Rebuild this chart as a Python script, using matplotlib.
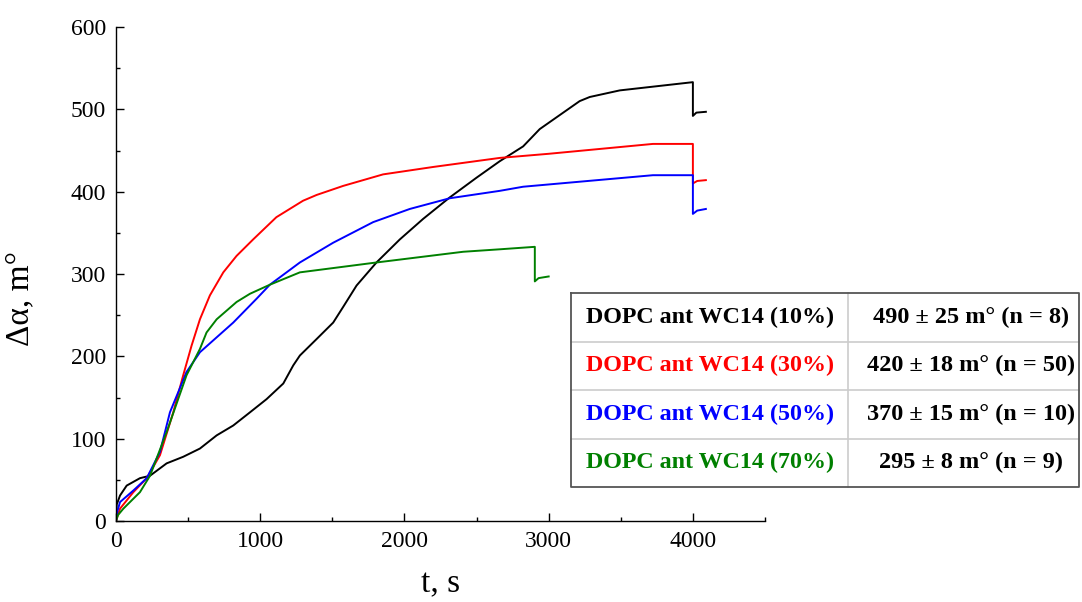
import matplotlib.pyplot as plt
from matplotlib.ticker import MultipleLocator

plt.rcParams['font.family'] = ['Liberation Serif', 'DejaVu Serif']

# kinetics curves, t in s, delta alpha in millidegrees
t_10 = [0, 5, 28, 74, 166, 236, 351, 466, 582, 698, 813, 929, 1044, 1160, 1229,
        1275, 1391, 1506, 1575, 1668, 1806, 1968, 2130, 2314, 2500, 2661, 2823,
        2938, 3215, 3285, 3493, 4000, 4000, 4024, 4090]
v_10 = [0, 20, 31, 43, 52, 55, 70, 78, 88, 104, 116, 132, 148, 167, 189,
        201, 221, 241, 260, 286, 314, 342, 367, 393, 417, 437, 455,
        476, 510, 515, 523, 533, 492, 496, 497]

t_30 = [0, 28, 120, 213, 305, 397, 466, 524, 582, 651, 744, 836, 951, 1112,
        1297, 1391, 1575, 1852, 2199, 2661, 3000, 3723, 4000, 4000, 4030, 4090]
v_30 = [0, 15, 35, 52, 80, 132, 177, 213, 245, 274, 302, 322, 342, 369,
        389, 396, 407, 421, 430, 441, 446, 458, 458, 410, 413, 414]

t_50 = [0, 8, 28, 120, 213, 305, 374, 489, 582, 813, 975, 1067, 1275, 1506,
        1783, 2037, 2314, 2661, 2823, 3723, 4000, 4000, 4030, 4090]
v_50 = [0, 11, 23, 37, 52, 84, 132, 181, 205, 241, 270, 287, 314, 338,
        363, 379, 392, 401, 406, 420, 420, 373, 377, 379]

t_70 = [0, 13, 51, 166, 236, 351, 489, 582, 628, 698, 836, 929, 1067, 1275,
        1806, 2083, 2407, 2661, 2904, 2904, 2930, 3000]
v_70 = [0, 7, 15, 35, 55, 108, 177, 209, 229, 245, 266, 276, 287, 302,
        314, 320, 327, 330, 333, 291, 295, 297]

labels = ['DOPC ant WC14 (10%)', 'DOPC ant WC14 (30%)',
          'DOPC ant WC14 (50%)', 'DOPC ant WC14 (70%)']
results = ['490 \u00b1 25 m\u00b0 (n = 8)', '420 \u00b1 18 m\u00b0 (n = 50)',
           '370 \u00b1 15 m\u00b0 (n = 10)', '295 \u00b1 8 m\u00b0 (n = 9)']
colors = ['black', 'red', 'blue', 'green']

fig = plt.figure(figsize=(10.82, 6.02), dpi=100)
ax = fig.add_axes([116 / 1082, 81 / 602, 649 / 1082, 494 / 602])

for t, v, c in zip([t_10, t_30, t_50, t_70], [v_10, v_30, v_50, v_70], colors):
    ax.plot(t, v, color=c, lw=1.4)

ax.set_xlim(0, 4500)
ax.set_ylim(0, 600)
ax.xaxis.set_major_locator(MultipleLocator(1000))
ax.xaxis.set_minor_locator(MultipleLocator(500))
ax.yaxis.set_major_locator(MultipleLocator(100))
ax.yaxis.set_minor_locator(MultipleLocator(50))
ax.tick_params(which='both', direction='in', labelsize=17, pad=7, width=1)
ax.tick_params(which='major', length=6)
ax.tick_params(which='minor', length=3)
ax.spines['right'].set_visible(False)
ax.spines['top'].set_visible(False)
for s in ('left', 'bottom'):
    ax.spines[s].set_linewidth(1)

ax.set_xlabel('t, s', fontsize=24, labelpad=12)
ax.set_ylabel('\u0394\u03b1, m\u00b0', fontsize=24)
ax.yaxis.set_label_coords(-0.125, 0.45)

# results table drawn in pixel coordinates on an overlay
ov = fig.add_axes([0, 0, 1, 1])
ov.set_xlim(0, 1082)
ov.set_ylim(602, 0)
ov.axis('off')

left, right, top, bottom, mid = 571, 1079, 293, 487, 848
row_h = (bottom - top) / 4
for i in range(1, 4):
    y = top + i * row_h
    ov.plot([left, right], [y, y], color='#cccccc', lw=1.2)
ov.plot([mid, mid], [top, bottom], color='#cccccc', lw=1.2)
ov.plot([left, right, right, left, left], [top, top, bottom, bottom, top],
        color='#555555', lw=1.3)

for i, (lab, res, c) in enumerate(zip(labels, results, colors)):
    yc = top + (i + 0.5) * row_h
    ov.text(586, yc, lab, color=c, fontsize=17.3, fontweight='bold',
            ha='left', va='center')
    ov.text(971, yc, res, color='black', fontsize=17.5,
            fontweight='bold', ha='center', va='center')

fig.savefig('out.png', dpi=100)
